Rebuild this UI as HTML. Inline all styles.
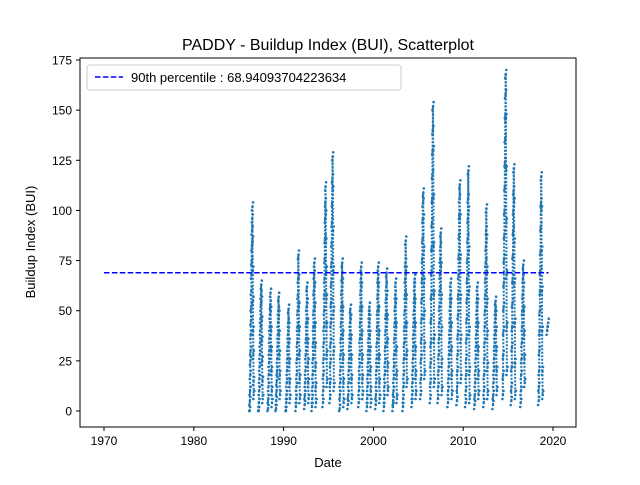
<!DOCTYPE html>
<html><head><meta charset="utf-8"><style>
body{margin:0;background:#fff;}
svg text{font-family:"Liberation Sans","DejaVu Sans",sans-serif;}
</style></head><body>
<svg id="chart" width="640" height="480" viewBox="0 0 640 480" xmlns="http://www.w3.org/2000/svg">
<rect width="640" height="480" fill="#fff"/>
<text x="328" y="50" text-anchor="middle" font-size="16">PADDY - Buildup Index (BUI), Scatterplot</text>
<g id="marks"></g>
<rect x="80" y="58" width="496" height="369" fill="none" stroke="#000" stroke-width="1"/>
<g id="xticks"></g>
<g id="yticks"></g>
<text x="328" y="467" text-anchor="middle" font-size="13">Date</text>
<text transform="translate(35,242) rotate(-90)" text-anchor="middle" font-size="13">Buildup Index (BUI)</text>
<g>
<rect x="87" y="65" width="314" height="25" rx="3" fill="#fff" stroke="#ccc"/>
<line x1="95" y1="77" x2="123" y2="77" stroke="#0000ff" stroke-width="1.5" stroke-dasharray="5.5,2.4"/>
<text x="131" y="82" font-size="13">90th percentile : 68.94093704223634</text>
</g>
</svg>
<script>
const xTicks=[1970,1980,1990,2000,2010,2020];
const yTicks=[0,25,50,75,100,125,150,175];
const percentile90=68.94093704223634;
const lineStart=1970, lineEnd=2019.5;
const seasonCenters=[1986.45,1987.45,1988.49,1989.38,1990.49,1991.6,1992.57,1993.39,1994.61,1995.39,1996.47,1997.39,1998.59,1999.51,2000.48,2001.40,2002.40,2003.52,2004.52,2005.49,2006.56,2007.42,2008.53,2009.53,2010.50,2011.50,2012.51,2013.54,2014.65,2015.58,2016.63,2018.63,2019.41];
const seasonValues=[
[0,5,10,18,25,30,38,45,52,60,68,75,82,90,96,102,85,70,55,40,28,15,8],
[0,4,10,16,22,28,34,40,46,52,58,63,55,45,35,25,15,6],
[1,6,12,18,24,30,36,42,48,53,59,50,40,30,20,10,4],
[1,5,10,15,20,26,32,38,44,50,57,48,38,28,18,8],
[0,4,8,14,20,26,32,38,44,51,42,34,24,14,6],
[2,6,12,18,26,34,42,50,58,66,78,66,52,40,28,16,6],
[3,8,14,20,28,36,44,52,62,54,44,34,24,14,6],
[2,6,12,18,26,34,42,50,60,68,74,62,52,42,32,22,12,4],
[4,10,18,26,34,42,50,58,66,76,86,96,104,112,98,84,70,56,42,28,14],
[6,14,24,34,44,54,64,74,84,94,104,116,127,110,90,70,50,30,12],
[1,8,14,20,28,36,44,52,60,67,74,64,50,38,26,14,4],
[3,8,14,20,26,32,38,44,51,46,36,26,16,6],
[4,10,16,22,28,36,44,52,60,66,72,62,50,38,26,16,8],
[2,6,12,18,24,30,36,42,48,52,46,38,30,20,10,4],
[3,8,14,20,26,34,42,50,58,66,72,62,50,38,26,14,6],
[2,6,12,18,24,32,40,48,56,62,69,58,46,34,22,10],
[2,5,10,16,22,28,36,44,52,58,64,54,42,30,18,6],
[2,6,12,18,26,34,42,50,58,66,74,85,70,56,42,28,14],
[4,8,14,20,26,32,38,44,50,56,62,66,54,42,30,18,8],
[8,16,26,36,46,56,66,76,86,96,104,109,96,80,64,48,32,18],
[6,14,24,34,46,58,70,82,94,106,118,130,140,152,130,106,82,58,36,14],
[6,12,20,28,36,44,52,60,68,76,82,89,72,56,40,24,10],
[4,10,16,22,28,34,40,46,52,58,64,54,42,30,18,8],
[5,12,20,28,38,48,58,68,78,88,98,106,113,96,76,56,36,16],
[4,10,18,26,36,46,56,66,76,86,96,106,120,100,80,60,40,20,6],
[3,8,14,20,26,32,38,44,50,56,62,54,42,30,18,8],
[4,10,18,26,34,42,50,58,66,74,82,90,101,86,70,54,38,22,8],
[3,8,14,20,26,32,38,44,50,55,48,40,30,20,10],
[8,18,28,40,52,64,76,88,100,112,124,136,148,158,168,146,120,94,68,42,20],
[5,12,22,32,42,54,66,78,90,100,110,121,104,84,64,44,24,8],
[4,10,18,26,34,42,50,58,66,73,62,50,38,26,14],
[5,12,20,30,40,50,60,70,80,92,104,117,100,80,60,40,20,8],
[40,42,44]
];
const X0=104,X1=553,xv0=1970,xv1=2020;
const Y0=411,Y1=60,yv0=0,yv1=175;
const xs=v=>X0+(v-xv0)*(X1-X0)/(xv1-xv0);
const ys=v=>Y0+(v-yv0)*(Y1-Y0)/(yv1-yv0);
const NS="http://www.w3.org/2000/svg";
const svg=document.getElementById('chart');
const marks=document.getElementById('marks');
seasonValues.forEach((vals,si)=>{
  const c=seasonCenters[si];
  if(c===undefined) return;
  const w=(si===seasonValues.length-1)?0.12:0.45;
  vals.forEach((v,i)=>{
    const t=vals.length>1?i/(vals.length-1):0.5;
    const d=c-w/2+t*w;
    for(let k=-1;k<=1;k++){
      const vv=Math.max(0,v+k*2);
      const p=document.createElementNS(NS,'circle');
      
      
      p.setAttribute('cx',xs(d+k*0.06).toFixed(1));
      p.setAttribute('cy',ys(vv).toFixed(1));
      p.setAttribute('r','1.3');
      p.setAttribute('fill','#1f77b4');
      marks.appendChild(p);
    }
    const seg=document.createElementNS(NS,'line');
    
    
    seg.setAttribute('x1',xs(d).toFixed(1));seg.setAttribute('x2',xs(d).toFixed(1));
    seg.setAttribute('y1',ys(v).toFixed(1));
    seg.setAttribute('y2',ys(i+1<vals.length?vals[i+1]:v).toFixed(1));
    seg.setAttribute('stroke','#1f77b4');seg.setAttribute('stroke-width','2');
    seg.setAttribute('stroke-dasharray','2,1.5');
    marks.appendChild(seg);
  });
});
const pl=document.createElementNS(NS,'line');


pl.setAttribute('x1',xs(lineStart));pl.setAttribute('x2',xs(lineEnd));
pl.setAttribute('y1',ys(percentile90));pl.setAttribute('y2',ys(percentile90));
pl.setAttribute('stroke','#0000ff');pl.setAttribute('stroke-width','1.5');
pl.setAttribute('stroke-dasharray','5.5,2.4');
marks.appendChild(pl);
const xg=document.getElementById('xticks');
xTicks.forEach(t=>{
  const l=document.createElementNS(NS,'line');
  
  
  l.setAttribute('x1',xs(t));l.setAttribute('x2',xs(t));l.setAttribute('y1',427);l.setAttribute('y2',431);l.setAttribute('stroke','#000');
  xg.appendChild(l);
  const tx=document.createElementNS(NS,'text');
  
  
  tx.setAttribute('x',xs(t));tx.setAttribute('y',445);tx.setAttribute('text-anchor','middle');tx.setAttribute('font-size','12');
  tx.textContent=t;xg.appendChild(tx);
});
const yg=document.getElementById('yticks');
yTicks.forEach(t=>{
  const l=document.createElementNS(NS,'line');
  
  
  l.setAttribute('x1',76);l.setAttribute('x2',80);l.setAttribute('y1',ys(t));l.setAttribute('y2',ys(t));l.setAttribute('stroke','#000');
  yg.appendChild(l);
  const tx=document.createElementNS(NS,'text');
  
  
  tx.setAttribute('x',72);tx.setAttribute('y',ys(t)+4.5);tx.setAttribute('text-anchor','end');tx.setAttribute('font-size','12');
  tx.textContent=t;yg.appendChild(tx);
});
</script>
</body></html>
